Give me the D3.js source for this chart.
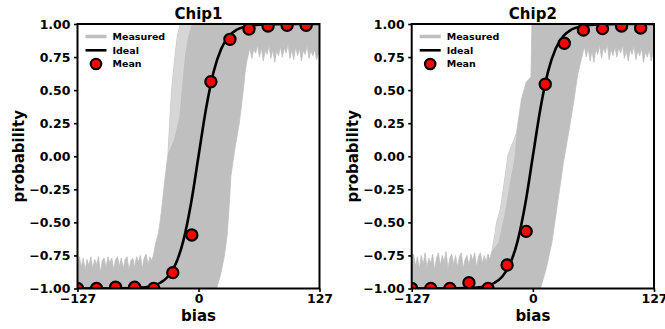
<!DOCTYPE html>
<html>
<head>
<meta charset="utf-8">
<script src="https://cdn.jsdelivr.net/npm/d3@7"></script>
<style>
  body { margin: 0; background: #fff; }
  text { font-family: "DejaVu Sans", sans-serif; font-weight: bold; }
</style>
</head>
<body>
<div id="chart"></div>
<script>
// shared x grid for mean points and ideal curve
const xTicks = [-127, 0, 127];
const yTicks = [-1, -0.75, -0.5, -0.25, 0, 0.25, 0.5, 0.75, 1];
const meanX = [-127, -107, -87, -67, -47, -27, -7, 13, 33, 53, 73, 93, 113];
const chip1Mean = [-1.0, -1.0, -0.99, -0.99, -1.0, -0.88, -0.595, 0.564, 0.884, 0.962, 0.985, 0.99, 0.99];
const chip2Mean = [-1.0, -1.0, -1.0, -0.956, -1.0, -0.822, -0.568, 0.544, 0.854, 0.955, 0.965, 0.985, 0.97];

const idealX = [-127, -100, -80, -70, -60, -50, -40, -32, -24, -16, -8, 0, 8, 16, 24, 32, 40, 50, 60, 70, 80, 100, 127];
const idealY = [-1.0, -0.9999, -0.999, -0.9975, -0.9934, -0.983, -0.9566, -0.9094, -0.8152, -0.6422, -0.3635, 0,
  0.3635, 0.6422, 0.8152, 0.9094, 0.9566, 0.983, 0.9934, 0.9975, 0.999, 0.9999, 1.0];

// envelope of the measured traces: [bias, probability] along top and bottom edges
const chip1Top = [[-127, -0.82], [-125, -0.76], [-123, -0.84], [-121, -0.77], [-119, -0.86], [-117, -0.78], [-115, -0.83],
  [-113, -0.76], [-111, -0.85], [-109, -0.78], [-107, -0.82], [-105, -0.76], [-103, -0.88], [-101, -0.79], [-99, -0.77],
  [-97, -0.84], [-95, -0.76], [-93, -0.81], [-91, -0.77], [-89, -0.86], [-87, -0.78], [-85, -0.76], [-83, -0.83],
  [-81, -0.77], [-79, -0.85], [-77, -0.78], [-75, -0.76], [-73, -0.86], [-71, -0.79], [-69, -0.77], [-67, -0.84],
  [-65, -0.76], [-63, -0.8], [-61, -0.75], [-59, -0.85], [-57, -0.77], [-55, -0.74], [-53, -0.82], [-51, -0.76],
  [-49, -0.79], [-47, -0.74], [-45, -0.66], [-42, -0.58], [-40, -0.48], [-38, -0.36], [-36, -0.22], [-34, -0.1],
  [-32, 0.02], [-30, 0.28], [-28, 0.52], [-26, 0.66], [-24, 0.8], [-22, 0.92], [-19, 1.0], [127, 1.0]];
const chip1Bottom = [[-127, -1.0], [19, -1.0], [23, -0.9], [27, -0.76], [30, -0.6], [32, -0.4], [34, -0.15], [38, 0.05],
  [43, 0.26], [47, 0.5], [49, 0.64], [51, 0.73], [52, 0.76], [54, 0.82], [56, 0.74], [58, 0.81], [60, 0.78], [62, 0.84],
  [64, 0.75], [66, 0.82], [68, 0.72], [70, 0.8], [72, 0.77], [74, 0.84], [76, 0.74], [78, 0.81], [80, 0.71], [82, 0.8],
  [84, 0.76], [86, 0.83], [88, 0.75], [90, 0.82], [92, 0.78], [94, 0.85], [96, 0.74], [98, 0.81], [100, 0.73],
  [102, 0.83], [104, 0.76], [106, 0.82], [108, 0.72], [110, 0.8], [112, 0.77], [114, 0.84], [116, 0.74], [118, 0.8],
  [120, 0.76], [122, 0.81], [124, 0.73], [126, 0.78], [127, 0.76]];
// sparse traces on the left of the dense band (chip1)
const chip1Fringe = [[-32, 0.02], [-30, 0.28], [-28, 0.52], [-26, 0.66], [-24, 0.8], [-22, 0.92], [-19, 1.0],
  [-7, 1.0], [-11, 0.9], [-14, 0.77], [-17, 0.55], [-20, 0.3], [-26, 0.12]];

const chip2Top = [[-127, -0.8], [-125, -0.74], [-123, -0.83], [-121, -0.76], [-119, -0.85], [-117, -0.75], [-115, -0.82],
  [-113, -0.73], [-111, -0.84], [-109, -0.77], [-107, -0.81], [-105, -0.74], [-103, -0.86], [-101, -0.77], [-99, -0.73],
  [-97, -0.83], [-95, -0.75], [-93, -0.8], [-91, -0.72], [-89, -0.85], [-87, -0.77], [-85, -0.74], [-83, -0.82],
  [-81, -0.75], [-79, -0.84], [-77, -0.76], [-75, -0.73], [-73, -0.85], [-71, -0.78], [-69, -0.75], [-67, -0.83],
  [-65, -0.74], [-63, -0.79], [-61, -0.73], [-59, -0.84], [-57, -0.76], [-55, -0.73], [-53, -0.81], [-51, -0.75],
  [-49, -0.8], [-47, -0.74], [-45, -0.78], [-43, -0.72], [-40, -0.6], [-38, -0.5], [-34, -0.4], [-30, -0.2],
  [-26, 0.01], [-20, 0.12], [-17, 0.18], [-12, 0.43], [-7, 0.56], [-2, 0.6], [-1, 1.0], [127, 1.0]];
const chip2Bottom = [[-127, -1.0], [8, -1.0], [14, -0.85], [20, -0.65], [26, -0.35], [32, -0.05], [38, 0.2], [43, 0.42],
  [47, 0.62], [51, 0.74], [52, 0.77], [54, 0.83], [56, 0.75], [58, 0.82], [60, 0.72], [62, 0.8], [64, 0.71], [66, 0.81],
  [68, 0.77], [70, 0.84], [72, 0.74], [74, 0.82], [76, 0.78], [78, 0.85], [80, 0.73], [82, 0.81], [84, 0.76], [86, 0.83],
  [88, 0.75], [90, 0.82], [92, 0.78], [94, 0.84], [96, 0.74], [98, 0.8], [100, 0.72], [102, 0.81], [104, 0.77],
  [106, 0.84], [108, 0.73], [110, 0.8], [112, 0.76], [114, 0.82], [116, 0.71], [118, 0.79], [120, 0.75], [122, 0.81],
  [124, 0.72], [126, 0.78], [127, 0.75]];
const chip2Fringe = [[-43, -0.72], [-40, -0.6], [-38, -0.5], [-34, -0.4], [-30, -0.2], [-26, 0.01], [-20, 0.12],
  [-17, 0.18], [-19, 0.0], [-24, -0.2], [-30, -0.45], [-36, -0.65]];

const panels = [
  { title: 'Chip1', left: 77.5, right: 319.5, mean: chip1Mean, top: chip1Top, bottom: chip1Bottom, fringe: chip1Fringe },
  { title: 'Chip2', left: 411.7, right: 654, mean: chip2Mean, top: chip2Top, bottom: chip2Bottom, fringe: chip2Fringe },
];

const W = 665, H = 329;
const plotTop = 24, plotBottom = 288.5;
const gray = '#bfbfbf';

const svg = d3.select('#chart').append('svg')
  .attr('width', W).attr('height', H)
  .style('background', '#fff');

panels.forEach((p, i) => {
  const x = d3.scaleLinear().domain([-127, 127]).range([p.left, p.right]);
  const y = d3.scaleLinear().domain([-1, 1]).range([plotBottom, plotTop]);
  const g = svg.append('g');
  const poly = d3.line().x(d => x(d[0])).y(d => y(d[1]));

  const clipId = 'clip' + i;
  svg.append('clipPath').attr('id', clipId)
    .append('rect')
    .attr('x', p.left).attr('y', plotTop)
    .attr('width', p.right - p.left).attr('height', plotBottom - plotTop);

  const plot = g.append('g').attr('clip-path', `url(#${clipId})`);

  // measured band
  const outline = p.top.concat(p.bottom.slice().reverse());
  plot.append('path')
    .attr('d', poly(outline) + 'Z')
    .attr('fill', gray)
    .attr('stroke', gray)
    .attr('stroke-width', 0.8);
  // lighter, sparse edge of the band
  plot.append('path')
    .attr('d', poly(p.fringe) + 'Z')
    .attr('fill', '#d6d6d6');

  // ideal curve
  const ideal = idealX.map((v, k) => [v, idealY[k]]);
  plot.append('path')
    .attr('d', d3.line().x(d => x(d[0])).y(d => y(d[1])).curve(d3.curveMonotoneX)(ideal))
    .attr('fill', 'none')
    .attr('stroke', '#000')
    .attr('stroke-width', 2.6);

  // mean points
  plot.selectAll('circle.mean')
    .data(meanX.map((v, k) => [v, p.mean[k]]))
    .enter().append('circle')
    .attr('class', 'mean')
    .attr('cx', d => x(d[0]))
    .attr('cy', d => y(d[1]))
    .attr('r', 5.6)
    .attr('fill', '#ff0000')
    .attr('stroke', '#000')
    .attr('stroke-width', 2.2);

  // axes
  const xAxis = d3.axisBottom(x).tickValues(xTicks).tickFormat(d3.format('d')).tickSize(3.5).tickPadding(2);
  const yAxis = d3.axisLeft(y).tickValues(yTicks).tickFormat(d3.format('.2f')).tickSize(3.5).tickPadding(3.5);

  const gx = g.append('g').attr('transform', `translate(0,${plotBottom})`).call(xAxis);
  const gy = g.append('g').attr('transform', `translate(${p.left},0)`).call(yAxis);
  [gx, gy].forEach(a => {
    a.select('.domain').remove();
    a.selectAll('.tick line').attr('stroke', '#000').attr('stroke-width', 1.6);
    a.selectAll('.tick text').attr('fill', '#000').style('font-size', '12.5px');
  });

  // frame
  g.append('rect')
    .attr('x', p.left).attr('y', plotTop)
    .attr('width', p.right - p.left).attr('height', plotBottom - plotTop)
    .attr('fill', 'none').attr('stroke', '#000').attr('stroke-width', 2);

  const cx = (p.left + p.right) / 2;
  g.append('text').attr('x', cx).attr('y', 19).attr('text-anchor', 'middle')
    .style('font-size', '15px').text(p.title);
  g.append('text').attr('x', cx).attr('y', 321).attr('text-anchor', 'middle')
    .style('font-size', '15px').text('bias');
  g.append('text')
    .attr('transform', `translate(${p.left - 54},${(plotTop + plotBottom) / 2}) rotate(-90)`)
    .attr('text-anchor', 'middle')
    .style('font-size', '15px').text('probability');

  // legend
  const lg = g.append('g').attr('transform', `translate(${p.left},0)`);
  const rows = [
    { label: 'Measured', y: 36.5, kind: 'band' },
    { label: 'Ideal', y: 50.3, kind: 'line' },
    { label: 'Mean', y: 64, kind: 'dot' },
  ];
  rows.forEach(r => {
    if (r.kind === 'band') {
      lg.append('line').attr('x1', 8).attr('x2', 29).attr('y1', r.y).attr('y2', r.y)
        .attr('stroke', gray).attr('stroke-width', 3.5);
    } else if (r.kind === 'line') {
      lg.append('line').attr('x1', 8).attr('x2', 29).attr('y1', r.y).attr('y2', r.y)
        .attr('stroke', '#000').attr('stroke-width', 2.6);
    } else {
      lg.append('circle').attr('cx', 18.5).attr('cy', r.y).attr('r', 5.2)
        .attr('fill', '#ff0000').attr('stroke', '#000').attr('stroke-width', 2.2);
    }
    lg.append('text').attr('x', 35).attr('y', r.y + 3.4)
      .style('font-size', '9.5px').text(r.label);
  });
});
</script>
</body>
</html>
